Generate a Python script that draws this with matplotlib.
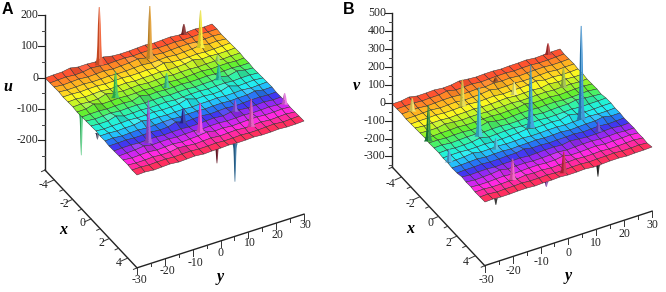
import matplotlib
matplotlib.use('Agg')
import matplotlib.pyplot as plt
from matplotlib.colors import LinearSegmentedColormap, to_rgb
import numpy as np

# spikes: x, y, height, colour
u_x = [-4.6, -3.8, -4.85, -3.4, -1.6, -1.1, -0.4, 2.8, 2.1, 3.26, 2.5, 4.1, 3.2, -1.9]
u_y = [-11.8, 3.7, 19.4, 20.6, -15.9, 0.8, 17.2, -18.6, -3.8, -1.6, 13.5, 14, 29, 21.8]
u_h = [186, 170, 35, 120, 85, 48, 51, 138, 49, 96, 37, 91, 37, 21]
u_c = ['#f0582a', '#e09a2a', '#8a2a2a', '#f8ee2a', '#30c85a', '#38c890', '#20c0a8',
       '#a048d8', '#2a2aa0', '#f040e0', '#8a50e0', '#e050b8', '#e868e0', '#98d868']
u_neg_x = [-1.3, 4.8, 5, 0.7]
u_neg_y = [-29.2, -0.6, 5.2, -30]
u_neg_h = [-135, -53, -122, -20]
u_neg_c = ['#30c868', '#701a2a', '#2a6a9a', '#303050']

v_x = [-3.9, -1.15, -3, -0.24, -2.6, 0.4, -1.9, 1.05, -4.87, 1.2, 1, 2.4, 4, 4.77, -4.1]
v_y = [-26.5, -29.8, -11.5, -14.7, 5.7, 1.7, 21.1, 17.7, 25.4, -13.4, -29.5, 19.3, -16.7, -0.9, 4.1]
v_h = [75, 205, 153, 276, 74, 354, 112, 525, 65, 65, 74, 56, 121, 121, 25]
v_c = ['#f0e060', '#1a8a40', '#e0d848', '#38c0d8', '#f0f078', '#2a98d8', '#98b848', '#2a88d0',
       '#b83030', '#48b8d8', '#48a8e0', '#6848d0', '#f058b8', '#c82840', '#804020']
v_neg_x = [5, 5, 5]
v_neg_y = [10.6, -26, -7.9]
v_neg_h = [-65, -37, -28]
v_neg_c = ['#202020', '#202020', '#7030a0']

# little bumps on the sheet, row, column, height
u_bump_i = [0, 0, 1, 2, 4, 6, 5, 8, 9, 10, 11, 12, 11, 14, 15, 16, 17, 18, 7, 9, 13, 3]
u_bump_j = [3, 7, 5, 10, 12, 4, 15, 7, 16, 3, 11, 5, 16, 8, 14, 3, 10, 6, 2, 18, 18, 17]
u_bump_h = [5, 6, 4, 5, 5, 6, 5, 6, 5, 7, 7, 6, 6, 7, 5, 5, 5, 5, 7, 6, 5, 5]
v_bump_i = [0, 0, 1, 2, 4, 6, 5, 8, 9, 10, 11, 12, 11, 14, 15, 16, 17, 18, 7, 9, 13, 3]
v_bump_j = [2, 8, 6, 11, 15, 3, 16, 7, 18, 5, 10, 3, 15, 8, 13, 4, 11, 6, 12, 17, 18, 10]
v_bump_h = [7, 8, 6, 7, 8, 8, 7, 9, 7, 10, 9, 8, 9, 9, 8, 7, 7, 7, 8, 9, 8, 6]

# sheet colour from the back row to the front row
sheet_hues = ['#ff3a34', '#ffa020', '#fff820', '#60f030', '#22f4c8', '#22eaff',
              '#2a3cf0', '#a824f4', '#ff28ec', '#ff2a80', '#ff3444']
hue_pos = [0, 0.1, 0.22, 0.38, 0.5, 0.6, 0.71, 0.79, 0.87, 0.95, 1]
u_ticks = [-200, -100, 0, 100, 200]
v_ticks = [-300, -200, -100, 0, 100, 200, 300, 400, 500]
x_ticks = [-4, -2, 0, 2, 4]
y_ticks = [-30, -20, -10, 0, 10, 20, 30]

n_cells = 20
serif = 'Liberation Serif'
cmap = LinearSegmentedColormap.from_list('sheet', list(zip(hue_pos, sheet_hues)))

# spike outline: share of the height, half width in pixels
spike_f = [0, 0.05, 0.14, 0.35, 0.7, 1]
spike_w = [4.5, 3.4, 2.6, 2.0, 1.4, 0.5]


def shade(col, k):
	c = np.array(to_rgb(col))
	if k < 0:
		return tuple(c * (1 + k))
	return tuple(c + (1 - c) * k)


def draw_panel(ax, org, va, vb, zscale, z_bottom, level, spikes, negs, bumps, zticks, zminor,
		label, letter, letter_pos, lab_pos, x_lab, y_lab):
	# org is the pixel of x=-5, y=-30, z=0
	def proj(x, y, z):
		a = (np.asarray(x) + 5) / 10.0
		b = (np.asarray(y) + 30) / 60.0
		return org[0] + a * va[0] + b * vb[0], org[1] + a * va[1] + b * vb[1] - np.asarray(z) * zscale

	def draw_spike(x, y, h, col, zo):
		bx, by = proj(x, y, level)
		f = np.array(spike_f)
		w = np.array(spike_w)
		if h < 0:
			w = w * 0.6
		sy = by - f * h * zscale
		ax.fill(np.r_[bx - w, bx, bx], np.r_[sy, sy[-1], by], color=shade(col, -0.18), lw=0, zorder=zo)
		ax.fill(np.r_[bx + w, bx, bx], np.r_[sy, sy[-1], by], color=shade(col, 0.12), lw=0, zorder=zo)

	gx = np.linspace(-5, 5, n_cells + 1)
	gy = np.linspace(-30, 30, n_cells + 1)
	xx, yy = np.meshgrid(gx, gy, indexing='ij')
	zz = np.full(xx.shape, float(level))
	for i, j, h in zip(*bumps):
		zz[i, j] += h

	sx, sy = proj(xx, yy, zz)
	rows = (np.arange(n_cells) + 0.5) / n_cells
	cols = np.zeros((n_cells, n_cells, 4))
	scale = 1.0 / (abs(zticks[-1]) * 0.12)
	for i in range(n_cells):
		for j in range(n_cells):
			slope = (zz[i, j + 1] + zz[i + 1, j + 1] - zz[i, j] - zz[i + 1, j]) * scale
			tilt = (zz[i + 1, j] + zz[i + 1, j + 1] - zz[i, j] - zz[i, j + 1]) * scale
			k = np.clip(0.3 * slope + 0.25 * tilt, -0.12, 0.3)
			cols[i, j, :3] = shade(cmap(rows[i])[:3], k)
			cols[i, j, 3] = 1

	for x, y, h, c in zip(*negs):
		draw_spike(x, y, h, c, 2)
	ax.pcolormesh(sx, sy, cols, shading='flat', edgecolors='#303030', linewidth=0.35, antialiased=True, zorder=3)
	order = np.argsort(spikes[0])
	for n in order:
		draw_spike(spikes[0][n], spikes[1][n], spikes[2][n], spikes[3][n], 4)

	# the three axes
	top = (org[0], org[1] - zticks[-1] * zscale)
	floor = (org[0], org[1] - z_bottom * zscale)
	ax.plot([org[0], org[0]], [top[1], floor[1]], color='#222222', lw=1, zorder=5)
	fx = lambda x: (floor[0] + (x + 5) / 10.0 * va[0], floor[1] + (x + 5) / 10.0 * (va[1] + 0.5))
	fy = lambda y: (floor[0] + va[0] + (y + 30) / 60.0 * vb[0], floor[1] + va[1] + 0.5 + (y + 30) / 60.0 * vb[1])
	ax.plot([fx(-5)[0], fx(5)[0]], [fx(-5)[1], fx(5)[1]], color='#222222', lw=1, zorder=5)
	ax.plot([fy(-30)[0], fy(30)[0]], [fy(-30)[1], fy(30)[1]], color='#222222', lw=1, zorder=5)

	for z in zminor:
		py = org[1] - z * zscale
		ax.plot([org[0] - 3.5, org[0]], [py, py], color='#444444', lw=0.7, zorder=5)
	for z in zticks:
		py = org[1] - z * zscale
		ax.plot([org[0] - 7, org[0]], [py, py], color='#222222', lw=0.8, zorder=5)
		ax.text(org[0] - 6.5, py, str(z), ha='right', va='center', family=serif, fontsize=8.5, color='#222222')

	for x in range(-5, 6):
		px, py = fx(x)
		d = 6.5 if x % 2 == 0 else 3.5
		ax.plot([px - d, px], [py + d * 0.45, py], color='#333333', lw=0.7, zorder=5)
	for y in range(-30, 31, 5):
		px, py = fy(y)
		d = 6 if y % 10 == 0 else 3
		ax.plot([px, px], [py, py + d], color='#333333', lw=0.7, zorder=5)

	for t, p in zip(x_ticks, x_lab):
		ax.text(p[0], p[1], str(t), ha='center', va='center', family=serif, fontsize=8.5, color='#222222')
	for t, p in zip(y_ticks, y_lab):
		ax.text(p[0], p[1], str(t), ha='center', va='center', family=serif, fontsize=8.5, color='#222222')

	ax.text(letter_pos[0], letter_pos[1], letter, ha='left', va='center', family='Liberation Sans',
		fontweight='bold', fontsize=11.5, color='black')
	for t, p in zip([label, 'x', 'y'], lab_pos):
		ax.text(p[0], p[1], t, ha='center', va='center', family=serif, fontweight='bold', style='italic',
			fontsize=11.5, color='black')


fig = plt.figure(figsize=(6.66, 2.92), dpi=100)
ax = fig.add_axes([0, 0, 1, 1])
ax.set_xlim(0, 666)
ax.set_ylim(292, 0)
ax.axis('off')

draw_panel(ax, (45, 77.7), (92, 97.3), (167, -53.7), 0.313, -295, 0,
	(u_x, u_y, u_h, u_c), (u_neg_x, u_neg_y, u_neg_h, u_neg_c),
	(u_bump_i, u_bump_j, u_bump_h), u_ticks, [-250, -150, -50, 50, 150], 'u', 'A', (2, 10),
	[(7.5, 87), (63, 230), (220, 277)],
	[(43, 185), (64, 204), (82, 223), (101, 243), (119, 263)],
	[(139, 280), (167, 271), (195, 263), (221, 253), (250, 243), (277, 235), (305, 225)])

draw_panel(ax, (392.3, 102.7), (92.4, 98), (167.4, -54.5), 0.179, -360, -7,
	(v_x, v_y, v_h, v_c), (v_neg_x, v_neg_y, v_neg_h, v_neg_c),
	(v_bump_i, v_bump_j, v_bump_h), v_ticks, [-350, -250, -150, -50, 50, 150, 250, 350, 450], 'v', 'B', (343, 10),
	[(356, 86), (410, 229), (568, 276)],
	[(390, 184), (410, 204), (430, 223), (448, 243), (466, 262)],
	[(486, 280), (513, 271), (541, 262), (568, 253), (596, 243), (624, 234), (652, 225)])

fig.savefig('out.png', dpi=100)
